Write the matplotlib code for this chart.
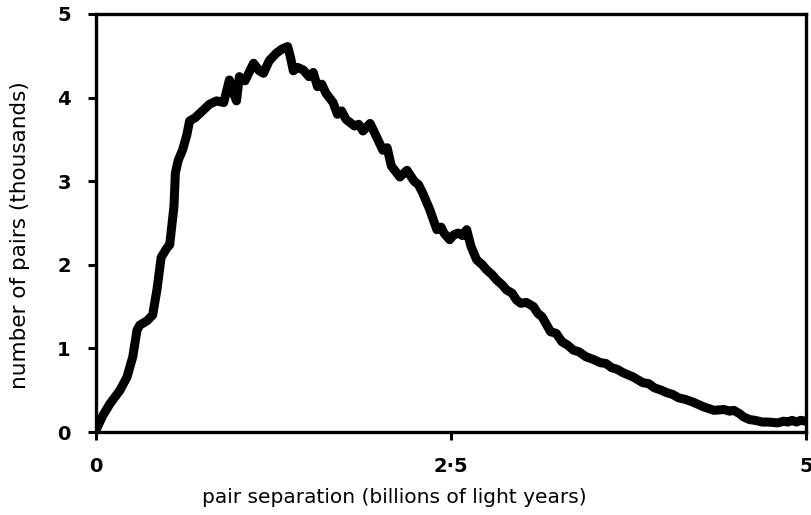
import matplotlib.pyplot as plt

# separation (billions of light years) and number of pairs (thousands)
separation = [0.00, 0.05, 0.10, 0.17, 0.22, 0.26, 0.29, 0.31, 0.36, 0.40, 0.43, 0.46,
              0.50, 0.52, 0.55, 0.56, 0.58, 0.61, 0.64, 0.66, 0.70, 0.75, 0.80, 0.85,
              0.90, 0.94, 0.97, 0.99, 1.01, 1.05, 1.11, 1.15, 1.18, 1.22, 1.27, 1.31,
              1.35, 1.37, 1.39, 1.42, 1.46, 1.50, 1.53, 1.56, 1.59, 1.62, 1.67, 1.70,
              1.73, 1.76, 1.79, 1.82, 1.85, 1.88, 1.93, 1.97, 2.02, 2.05, 2.08, 2.14,
              2.19, 2.24, 2.27, 2.30, 2.35, 2.40, 2.43, 2.45, 2.49, 2.52, 2.55, 2.58,
              2.61, 2.64, 2.68, 2.72, 2.75, 2.79, 2.82, 2.86, 2.89, 2.93, 2.96, 2.99,
              3.03, 3.08, 3.11, 3.14, 3.20, 3.24, 3.28, 3.32, 3.36, 3.40, 3.45, 3.50,
              3.55, 3.59, 3.63, 3.67, 3.71, 3.78, 3.85, 3.89, 3.93, 3.98, 4.02, 4.06,
              4.10, 4.15, 4.20, 4.28, 4.35, 4.42, 4.46, 4.49, 4.53, 4.56, 4.60, 4.64,
              4.69, 4.73, 4.80, 4.84, 4.87, 4.90, 4.93, 4.96, 5.00]
pairs = [0.02, 0.20, 0.34, 0.50, 0.66, 0.90, 1.22, 1.28, 1.33, 1.40, 1.70, 2.09,
         2.20, 2.24, 2.70, 3.10, 3.25, 3.37, 3.55, 3.72, 3.76, 3.84, 3.92, 3.96,
         3.94, 4.21, 4.05, 3.96, 4.25, 4.20, 4.41, 4.32, 4.29, 4.44, 4.53, 4.58,
         4.61, 4.48, 4.32, 4.36, 4.33, 4.25, 4.30, 4.13, 4.16, 4.05, 3.94, 3.80,
         3.84, 3.74, 3.70, 3.66, 3.68, 3.60, 3.69, 3.55, 3.37, 3.40, 3.18, 3.05,
         3.13, 3.00, 2.96, 2.86, 2.66, 2.42, 2.45, 2.38, 2.30, 2.36, 2.38, 2.35,
         2.42, 2.22, 2.06, 2.00, 1.94, 1.88, 1.82, 1.76, 1.70, 1.66, 1.58, 1.54,
         1.55, 1.50, 1.42, 1.38, 1.20, 1.18, 1.08, 1.04, 0.98, 0.96, 0.90, 0.87,
         0.83, 0.82, 0.77, 0.75, 0.71, 0.66, 0.59, 0.58, 0.53, 0.50, 0.47, 0.45,
         0.41, 0.39, 0.36, 0.30, 0.26, 0.27, 0.25, 0.26, 0.22, 0.18, 0.15, 0.14,
         0.12, 0.12, 0.11, 0.13, 0.12, 0.14, 0.12, 0.14, 0.13]

x_ticks = [0, 2.5, 5]
x_tick_labels = ['0', '2·5', '5']
y_ticks = [0, 1, 2, 3, 4, 5]
y_tick_labels = ['0', '1', '2', '3', '4', '5']

fig = plt.figure(figsize=(8.12, 5.15), dpi=100)
ax = fig.add_axes([0.118, 0.161, 0.875, 0.812])

ax.plot(separation, pairs, color='black', linewidth=6.5, solid_joinstyle='round',
        solid_capstyle='round')

ax.set_xlim(0, 5)
ax.set_ylim(0, 5)
ax.set_xticks(x_ticks)
ax.set_xticklabels(x_tick_labels, fontsize=14, fontweight='bold')
ax.set_yticks(y_ticks)
ax.set_yticklabels(y_tick_labels, fontsize=14, fontweight='bold')
ax.tick_params(axis='both', direction='out', length=6, width=2.2, pad=12)

for s in ax.spines.values():
    s.set_linewidth(2.4)

ax.set_xlabel('pair separation (billions of light years)', fontsize=14.5)
ax.set_ylabel('number of pairs (thousands)', fontsize=15.5)
ax.xaxis.set_label_coords(0.42, -0.134)
ax.yaxis.set_label_coords(-0.092, 0.47)

fig.savefig('out.png', dpi=100)
